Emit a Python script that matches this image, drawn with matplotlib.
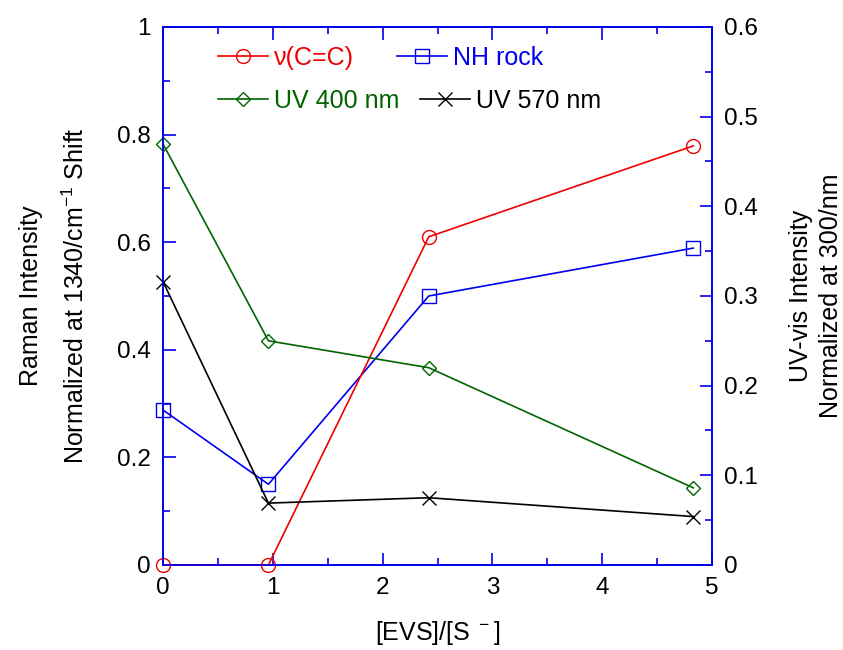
import matplotlib
matplotlib.use("Agg")
import matplotlib.pyplot as plt
from matplotlib.ticker import MultipleLocator

plt.rcParams['font.family'] = ['Liberation Sans', 'DejaVu Sans']
plt.rcParams['mathtext.fontset'] = 'custom'
plt.rcParams['mathtext.rm'] = 'Liberation Sans'

x = [0, 0.96, 2.42, 4.83]
cc = [0, 0, 0.61, 0.779]
nh = [0.288, 0.150, 0.500, 0.589]
uv400 = [0.4695, 0.250, 0.220, 0.086]
uv570 = [0.316, 0.069, 0.075, 0.054]

blue = '#0000ee'
fig = plt.figure(figsize=(8.43, 6.5), dpi=100)
ax = fig.add_axes([0.1934, 0.1308, 0.6512, 0.8277])
ax2 = ax.twinx()

l1, = ax.plot(x, cc, color='#ee0000', marker='o', ms=10, mfc='none', lw=1.2, label='ν(C=C)', clip_on=False, zorder=5)
l2, = ax.plot(x, nh, color=blue, marker='s', ms=10, mfc='none', lw=1.2, label='NH rock', clip_on=False)
l3, = ax2.plot(x, uv400, color='#006400', marker='D', ms=7, mfc='none', lw=1.2, label='UV 400 nm', clip_on=False)
l4, = ax2.plot(x, uv570, color='black', marker='x', ms=10, lw=1.2, label='UV 570 nm', clip_on=False)

ax.set_xlim(0, 5)
ax.set_ylim(0, 1)
ax2.set_ylim(0, 0.6)
ax.xaxis.set_major_locator(MultipleLocator(1))
ax.xaxis.set_minor_locator(MultipleLocator(0.5))
ax.yaxis.set_major_locator(MultipleLocator(0.2))
ax.yaxis.set_minor_locator(MultipleLocator(0.1))
ax2.yaxis.set_major_locator(MultipleLocator(0.1))
ax2.yaxis.set_minor_locator(MultipleLocator(0.05))

fmt = lambda v, p: '0' if abs(v) < 1e-9 else ('%g' % v)
ax.xaxis.set_major_formatter(fmt)
ax.yaxis.set_major_formatter(fmt)
ax2.yaxis.set_major_formatter(fmt)

for a in (ax, ax2):
    for s in a.spines.values():
        s.set_color(blue)
        s.set_linewidth(1.2)
    a.tick_params(which='both', direction='in', color=blue, labelsize=17.5, width=1.2)
    a.tick_params(which='major', length=9, pad=9)
    a.tick_params(which='minor', length=5)
ax.tick_params(axis='x', which='both', top=True)

ax.set_xlabel('[EVS]/[S$^{\\ -}$]', fontsize=18, labelpad=14)
ax.set_ylabel('Raman Intensity\nNormalized at 1340/cm$^{-1}$ Shift', fontsize=18, labelpad=20, linespacing=1.9)
ax2.set_ylabel('UV-vis Intensity\nNormalized at 300/nm', fontsize=18, labelpad=22, linespacing=1.3)

# legend drawn as two rows so each row spaces its own columns
rows = [([l1, l2], 58, 1.7), ([l3, l4], 101, 0.8)]
for hs, yp, cs in rows:
    leg = fig.legend(handles=hs, loc='center left', bbox_to_anchor=(218 / 843, 1 - yp / 650), ncol=2,
                     frameon=False, fontsize=18, handlelength=2.0, columnspacing=cs, handletextpad=0.25,
                     borderpad=0, borderaxespad=0)
    for t, l in zip(leg.get_texts(), hs):
        t.set_color(l.get_color())

fig.savefig('out.png', dpi=100)
